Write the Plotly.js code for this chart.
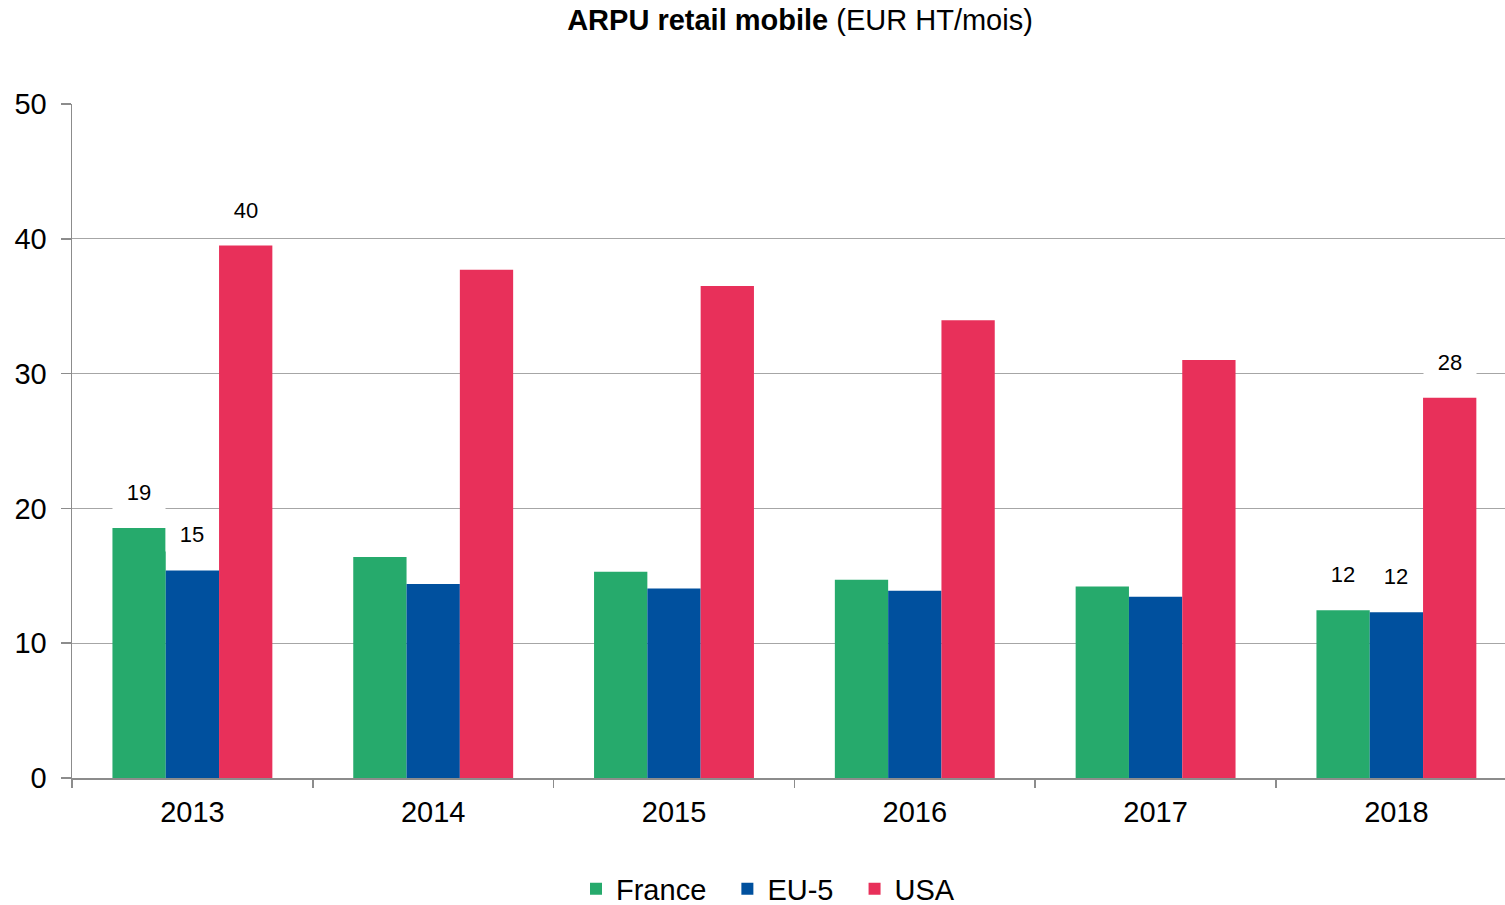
<!DOCTYPE html>
<html><head><meta charset="utf-8">
<script src="https://cdn.plot.ly/plotly-3.0.1.min.js"></script>
<style>html,body{margin:0;padding:0;background:#fff}#chart{width:1505px;height:905px}</style>
</head><body><div id="chart"></div>
<script>
var years = ['2013','2014','2015','2016','2017','2018'];
var france = [18.55, 16.4, 15.3, 14.7, 14.2, 12.45];
var eu5 = [15.4, 14.4, 14.05, 13.9, 13.45, 12.3];
var usa = [39.5, 37.7, 36.5, 33.95, 31.0, 28.2];
var franceLabels = ['19','','','','','12'];
var eu5Labels = ['15','','','','','12'];
var usaLabels = ['40','','','','','28'];

var seriesNames = ['France','EU-5','USA'];
var seriesValues = [france, eu5, usa];
var seriesLabels = [franceLabels, eu5Labels, usaLabels];
var colors = ['#26AA6C','#00509E','#E8305A'];
var FONT = 'Liberation Sans, Arial, sans-serif';

var traces = seriesNames.map(function(n,i){
  return {type:'bar', name:n + '\u00a0\u00a0', x:years, y:seriesValues[i], marker:{color:colors[i]}, hoverinfo:'none'};
});

var bargap = 0.336;
var annotations = [];
var nS = 3, barW = (1-bargap)/nS;
seriesLabels.forEach(function(labs,i){
  labs.forEach(function(t,j){
    if(!t) return;
    annotations.push({
      xref:'x', yref:'y', x:j + (i-1)*barW, y:seriesValues[i][j],
      text:t, showarrow:false, yanchor:'middle', yshift:36,
      bgcolor:'#ffffff', width:52, height:34, borderpad:0,
      font:{family:FONT, size:22, color:'#000'}
    });
  });
});

var layout = {
  width:1505, height:905,
  margin:{l:72, r:0, t:104, b:127, autoexpand:false},
  paper_bgcolor:'#fff', plot_bgcolor:'#fff',
  font:{family:FONT, size:29, color:'#000'},
  title:{text:'<b>ARPU retail mobile</b> (EUR HT/mois)', xref:'container', yref:'container',
    x:800/1505, xanchor:'center', y:1-20/905, yanchor:'middle', font:{family:FONT, size:29, color:'#000'}},
  barmode:'group', bargap:bargap, bargroupgap:0,
  xaxis:{type:'category', range:[-0.5, 5.451], showline:true, linecolor:'#8c8c8c', linewidth:1.5,
    ticks:'outside', tickson:'boundaries', ticklen:8, tickcolor:'#8c8c8c', tickwidth:1.5,
    showgrid:false, zeroline:false, tickfont:{size:29}, ticklabelstandoff:8},
  yaxis:{range:[0,50], dtick:10, showline:true, linecolor:'#8c8c8c', linewidth:1.5,
    ticks:'outside', ticklen:10, tickcolor:'#8c8c8c', tickwidth:1.5,
    gridcolor:'#a6a6a6', gridwidth:1, zeroline:false, tickfont:{size:29}, ticklabelstandoff:8},
  showlegend:true,
  legend:{orientation:'h', xref:'container', yref:'container', x:576/1505, xanchor:'left',
    y:1-889/905, yanchor:'middle', font:{size:29}, traceorder:'normal', itemwidth:30},
  annotations:annotations
};
Plotly.newPlot('chart', traces, layout, {displayModeBar:false, staticPlot:true});
</script></body></html>
